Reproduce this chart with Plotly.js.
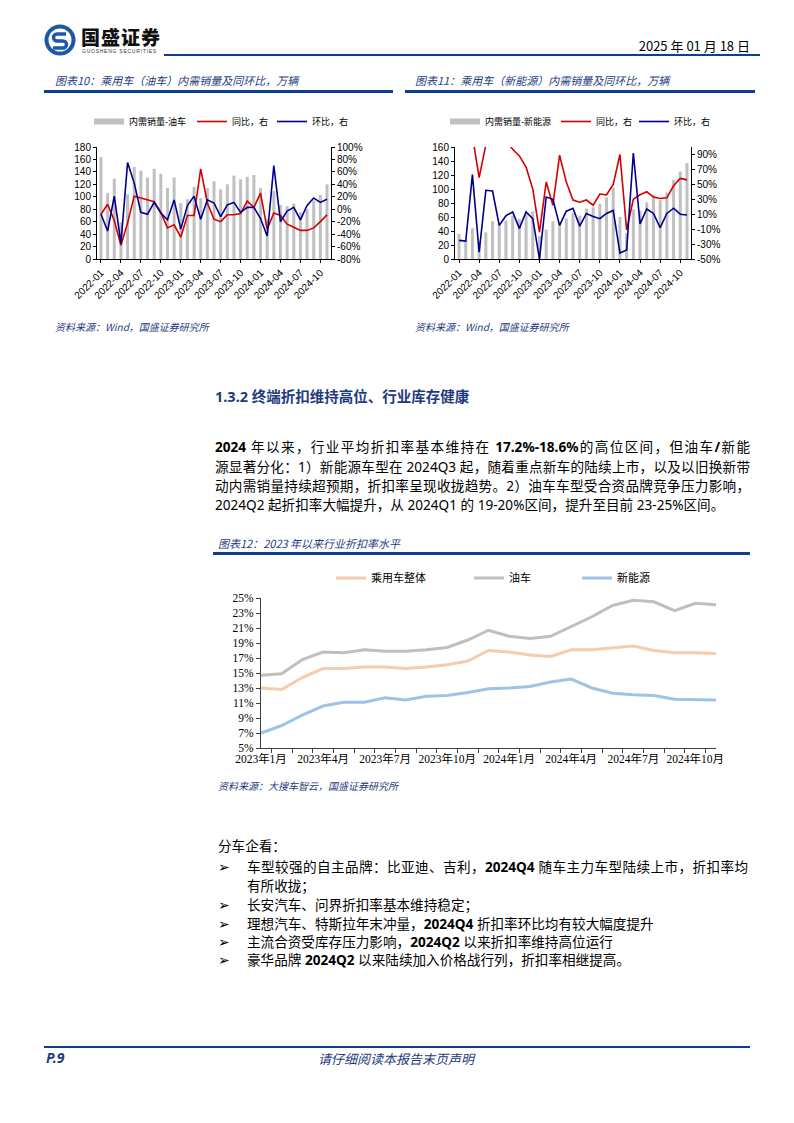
<!DOCTYPE html>
<html><head><meta charset="utf-8">
<script src="https://cdn.plot.ly/plotly-3.0.1.min.js"></script>
<style>
body{margin:0;background:#fff;}
#page{position:relative;width:794px;height:1123px;overflow:hidden;background:#fff;font-family:"Noto Sans","Noto Sans CJK SC",sans-serif;color:#000;}
.a{position:absolute;white-space:nowrap;}
.ct{font-family:"Noto Sans CJK SC",sans-serif;font-size:11px;font-style:italic;color:#1f3b80;line-height:14px;}
.src{font-family:"Noto Sans CJK SC",sans-serif;font-size:10px;font-style:italic;color:#1f3b80;line-height:14px;}
.bar{position:absolute;background:#0f3d8f;}
.p{position:absolute;font-size:13.6px;line-height:19px;white-space:normal;}
.j{text-align:justify;text-align-last:justify;}
.p b{font-weight:700;}
</style></head>
<body><div id="page">

<!-- header -->
<svg class="a" style="left:44px;top:24px" width="32" height="32" viewBox="0 0 32 32">
 <circle cx="16" cy="16" r="13.5" fill="none" stroke="#1c57a8" stroke-width="4"/>
 <path d="M22,10 H13 a3.5,3.5 0 0 0 0,7 h6 a3.5,3.5 0 0 1 0,7 H9" fill="none" stroke="#1c57a8" stroke-width="3.4"/>
</svg>
<div class="a" style="left:81px;top:26px;font-family:'Noto Sans CJK SC';font-weight:900;font-size:19px;letter-spacing:1px;line-height:22px;color:#111;">国盛证券</div>
<div class="a" style="left:82px;top:48px;font-family:'Liberation Sans';font-size:5px;letter-spacing:0.75px;line-height:6px;color:#333;">GUOSHENG SECURITIES</div>
<div class="bar" style="left:164px;top:54px;width:596px;height:2px;"></div>
<div class="a" style="right:44px;top:37px;font-family:'Noto Sans CJK SC';font-size:13px;line-height:18px;">2025 年 01 月 18 日</div>

<!-- chart titles -->
<div class="a ct" style="left:55px;top:73px;">图表10：乘用车（油车）内需销量及同环比，万辆</div>
<div class="bar" style="left:44px;top:90px;width:349px;height:3px;"></div>
<div class="a ct" style="left:415px;top:73px;">图表11：乘用车（新能源）内需销量及同环比，万辆</div>
<div class="bar" style="left:405px;top:90px;width:350px;height:3px;"></div>

<div id="c10" class="a" style="left:44px;top:100px;width:350px;height:215px;"></div>
<div id="c11" class="a" style="left:405px;top:100px;width:350px;height:215px;"></div>

<div class="a src" style="left:55px;top:320px;">资料来源：Wind，国盛证券研究所</div>
<div class="a src" style="left:415px;top:320px;">资料来源：Wind，国盛证券研究所</div>

<!-- section -->
<div class="a" style="left:215px;top:386px;font-size:14.5px;font-weight:700;color:#1f3b80;line-height:20px;">1.3.2 <span style="font-family:'Noto Sans CJK SC'">终端折扣维持高位、行业库存健康</span></div>

<div class="p j" style="left:215px;top:437px;width:535px;"><b>2024</b> 年以来，行业平均折扣率基本维持在 <b>17.2%-18.6%</b>的高位区间，但油车<b>/</b>新能</div>
<div class="p j" style="left:215px;top:457px;width:535px;">源显著分化：1）新能源车型在 2024Q3 起，随着重点新车的陆续上市，以及以旧换新带</div>
<div class="p j" style="left:215px;top:476px;width:535px;">动内需销量持续超预期，折扣率呈现收拢趋势。2）油车车型受合资品牌竞争压力影响，</div>
<div class="p" style="left:215px;top:495px;width:540px;">2024Q2 起折扣率大幅提升，从 2024Q1 的 19-20%区间，提升至目前 23-25%区间。</div>

<div class="a ct" style="left:218px;top:536px;">图表12：2023 年以来行业折扣率水平</div>
<div class="bar" style="left:213px;top:552px;width:537px;height:3px;"></div>
<div id="c12" class="a" style="left:213px;top:556px;width:540px;height:220px;"></div>
<div class="a src" style="left:218px;top:779px;">资料来源：大搜车智云，国盛证券研究所</div>

<!-- bullets -->
<div class="p" style="left:218px;top:836px;">分车企看：</div>
<div class="p" style="left:218px;top:857px;">➢</div>
<div class="p j" style="left:247px;top:857px;width:501px;">车型较强的自主品牌：比亚迪、吉利，<b>2024Q4</b> 随车主力车型陆续上市，折扣率均</div>
<div class="p" style="left:247px;top:876px;">有所收拢；</div>
<div class="p" style="left:218px;top:895px;">➢</div>
<div class="p" style="left:247px;top:895px;">长安汽车、问界折扣率基本维持稳定；</div>
<div class="p" style="left:218px;top:914px;">➢</div>
<div class="p" style="left:247px;top:914px;">理想汽车、特斯拉年末冲量，<b>2024Q4</b> 折扣率环比均有较大幅度提升</div>
<div class="p" style="left:218px;top:932px;">➢</div>
<div class="p" style="left:247px;top:932px;">主流合资受库存压力影响，<b>2024Q2</b> 以来折扣率维持高位运行</div>
<div class="p" style="left:218px;top:950px;">➢</div>
<div class="p" style="left:247px;top:950px;">豪华品牌 <b>2024Q2</b> 以来陆续加入价格战行列，折扣率相继提高。</div>

<!-- footer -->
<div class="bar" style="left:44px;top:1046px;width:706px;height:2px;"></div>
<div class="a" style="left:46px;top:1049px;font-size:14px;font-weight:700;font-style:italic;color:#1f3b80;line-height:18px;">P.9</div>
<div class="a" style="left:318px;top:1050px;font-family:'Noto Sans CJK SC';font-size:13px;font-style:italic;color:#1f3b80;line-height:17px;">请仔细阅读本报告末页声明</div>

</div>
<script>
// ---------- data: charts 10 / 11 ----------
var months = ['2022-01','2022-02','2022-03','2022-04','2022-05','2022-06','2022-07','2022-08','2022-09','2022-10','2022-11','2022-12',
 '2023-01','2023-02','2023-03','2023-04','2023-05','2023-06','2023-07','2023-08','2023-09','2023-10','2023-11','2023-12',
 '2024-01','2024-02','2024-03','2024-04','2024-05','2024-06','2024-07','2024-08','2024-09','2024-10','2024-11'];
var monthTicks = ['2022-01','2022-04','2022-07','2022-10','2023-01','2023-04','2023-07','2023-10','2024-01','2024-04','2024-07','2024-10'];

var oilSales = [164,106,129,59,104,148,142,131,145,137,114,131,90,96,116,98,114,125,112,120,134,128,132,135,114,65,109,87,85,89,75,80,94,103,120];
var oilYoY   = [-8,8,-18,-58,-22,21,18,15,12,-5,-30,-25,-45,-10,-10,65,10,-16,-20,-9,-9,-7,13,3,26,-32,-6,-10,-24,-29,-34,-34,-30,-20,-9];
var oilMoM   = [-8,-35,21,-55,75,42,-5,-8,11,-6,-17,15,-32,6,21,-16,15,10,-12,7,11,-5,3,3,-15,-43,70,-20,-3,3,-17,6,18,11,16];
var oilPctTicks = [-80,-60,-40,-20,0,20,40,60,80,100];
var oilPctText  = ['-80%','-60%','-40%','-20%','0%','20%','40%','60%','80%','100%'];

var nevSales = [36,27,44,26,38,54,51,55,62,57,64,68,33,42,54,51,58,66,62,72,74,79,88,102,60,37,71,69,81,92,84,95,113,125,137];
var nevYoY   = [130,160,115,59,103,130,125,109,97,88,73,44,-14,53,22,89,53,29,26,29,22,37,36,50,90,-11,30,36,40,33,31,32,48,58,56];
var nevMoM   = [-25,-26,63,-41,42,41,-5,8,13,-9,13,4,-50,33,30,-5,14,18,-6,11,7,4,11,15,-42,-38,92,-3,17,11,-8,11,18,10,9];
var nevPctTicks = [-50,-30,-10,10,30,50,70,90];
var nevPctText  = ['-50%','-30%','-10%','10%','30%','50%','70%','90%'];

// ---------- data: chart 12 ----------
var months12 = ['2023年1月','2023年2月','2023年3月','2023年4月','2023年5月','2023年6月','2023年7月','2023年8月','2023年9月','2023年10月','2023年11月','2023年12月',
 '2024年1月','2024年2月','2024年3月','2024年4月','2024年5月','2024年6月','2024年7月','2024年8月','2024年9月','2024年10月','2024年11月'];
var ticks12 = ['2023年1月','','','2023年4月','','','2023年7月','','','2023年10月','','','2024年1月','','','2024年4月','','','2024年7月','','','2024年10月',''];
var overall = [13.0,12.8,14.4,15.6,15.6,15.8,15.8,15.6,15.8,16.1,16.6,18.0,17.8,17.4,17.2,18.1,18.1,18.4,18.6,18.0,17.7,17.7,17.6];
var oilDisc = [14.7,14.9,16.8,17.8,17.7,18.1,17.9,17.9,18.1,18.4,19.4,20.7,19.9,19.6,19.9,21.2,22.5,24.0,24.7,24.5,23.3,24.3,24.1];
var nevDisc = [7.0,8.0,9.4,10.6,11.1,11.1,11.7,11.4,11.9,12.0,12.4,12.9,13.0,13.2,13.8,14.2,13.0,12.3,12.1,12.0,11.5,11.4,11.4];

var cfg = {staticPlot:true, displayModeBar:false};
var numFont = {family:'Liberation Sans, Arial', size:10, color:'#000'};
var cjk = 'Noto Sans CJK SC';

function lg(x, y, size){
  return {xref:'container', yref:'container', x:x, y:y, xanchor:'left', yanchor:'middle',
    orientation:'h', bgcolor:'rgba(0,0,0,0)', borderwidth:0,
    font:{family:cjk, size:size, color:'#000'}, itemwidth:30};
}

function dualChart(id, barName, sales, yoy, mom, y2range, y2ticks, y2text, lx){
  var traces = [
    {type:'bar', x:months, y:sales, marker:{color:'#c0c0c0'}, showlegend:false, name:barName},
    {type:'scatter', mode:'lines', x:[null], y:[null], name:barName, line:{color:'#c0c0c0', width:6}, legend:'legend', showlegend:true},
    {type:'scatter', mode:'lines', x:months, y:yoy, yaxis:'y2', name:'同比，右', line:{color:'#d40000', width:1.6}, legend:'legend2', showlegend:true},
    {type:'scatter', mode:'lines', x:months, y:mom, yaxis:'y2', name:'环比，右', line:{color:'#00008f', width:1.6}, legend:'legend3', showlegend:true}
  ];
  var layout = {
    width:350, height:215, showlegend:true,
    margin:{l:lx.l, r:lx.r, t:47, b:56},
    paper_bgcolor:'#fff', plot_bgcolor:'#fff',
    bargap:0.55,
    xaxis:{type:'category', categoryorder:'array', categoryarray:months, tickvals:monthTicks, tickangle:-45,
      ticks:'outside', ticklen:3, tickcolor:'#000', showline:true, linecolor:'#000', linewidth:1,
      showgrid:false, tickfont:numFont, range:[-0.6, months.length-0.4]},
    yaxis:{range:lx.y1range, dtick:20, tick0:0, ticks:'outside', ticklen:3, tickcolor:'#000',
      showline:true, linecolor:'#000', linewidth:1, showgrid:false, zeroline:false, tickfont:numFont},
    yaxis2:{overlaying:'y', side:'right', range:y2range, tickmode:'array', tickvals:y2ticks, ticktext:y2text,
      ticks:'outside', ticklen:3, tickcolor:'#000', showline:true, linecolor:'#000', linewidth:1,
      showgrid:false, zeroline:false, tickfont:numFont},
    legend:lg(lx.lg[0], 0.9, 9), legend2:lg(lx.lg[1], 0.9, 9), legend3:lg(lx.lg[2], 0.9, 9)
  };
  Plotly.newPlot(id, traces, layout, cfg);
}

dualChart('c10', '内需销量-油车', oilSales, oilYoY, oilMoM, [-80,100], oilPctTicks, oilPctText,
  {l:53, r:63, y1range:[0,180], lg:[45/350, 148/350, 228/350]});
dualChart('c11', '内需销量-新能源', nevSales, nevYoY, nevMoM, [-50,100], nevPctTicks, nevPctText,
  {l:50, r:64, y1range:[0,160], lg:[40/350, 151/350, 229/350]});

// ---------- chart 12 ----------
var serif = {family:'Liberation Serif, Noto Sans CJK SC', size:11.5, color:'#000'};
var t12 = [
  {type:'scatter', mode:'lines', x:months12, y:overall, name:'乘用车整体', line:{color:'#f8cbad', width:3}, legend:'legend', showlegend:true},
  {type:'scatter', mode:'lines', x:months12, y:oilDisc, name:'油车', line:{color:'#bfbfbf', width:3}, legend:'legend2', showlegend:true},
  {type:'scatter', mode:'lines', x:months12, y:nevDisc, name:'新能源', line:{color:'#9dc3e6', width:3}, legend:'legend3', showlegend:true}
];
var l12 = {
  width:540, height:220, showlegend:true, margin:{l:48, r:37, t:42, b:28},
  paper_bgcolor:'#fff', plot_bgcolor:'#fff',
  xaxis:{type:'category', tickvals:months12, ticktext:ticks12, tickson:'boundaries', ticks:'outside', ticklen:4,
    tickcolor:'#404040', showline:true, linecolor:'#404040', linewidth:1, showgrid:false, tickangle:0, tickfont:serif},
  yaxis:{range:[5,25], dtick:2, tick0:5, ticksuffix:'%', ticks:'outside', ticklen:4, tickcolor:'#404040',
    showline:true, linecolor:'#404040', linewidth:1, showgrid:false, zeroline:false, tickfont:serif},
  legend:lg(118/540, 0.9, 11), legend2:lg(256/540, 0.9, 11), legend3:lg(364/540, 0.9, 11)
};
Plotly.newPlot('c12', t12, l12, cfg);
</script>
</body></html>
